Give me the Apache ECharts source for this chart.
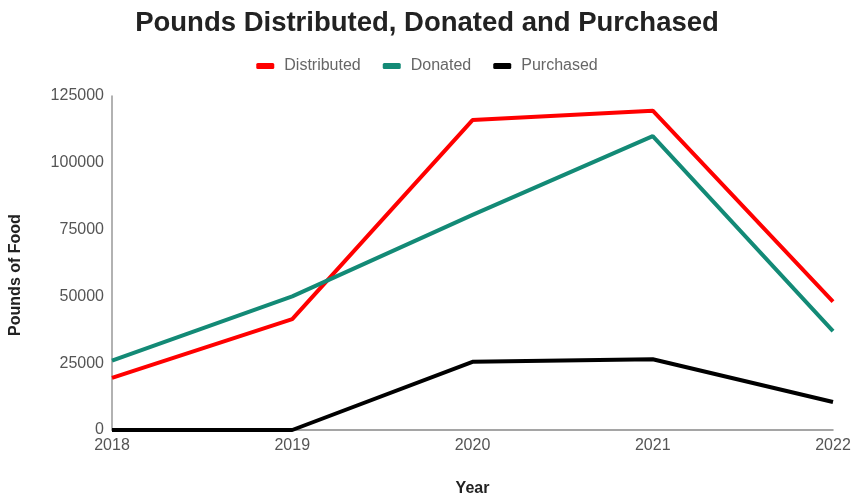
<!DOCTYPE html>
<html><head><meta charset="utf-8">
<script src="https://cdn.jsdelivr.net/npm/echarts@6/dist/echarts.min.js"></script>
<style>html,body{margin:0;padding:0;background:#fff}#c{width:854px;height:502px}</style>
</head><body><div id="c"></div>
<script>
const years = ['2018','2019','2020','2021','2022'];
const distributed = [19500, 41500, 116000, 119500, 48000];
const donated = [26000, 50000, 80500, 110000, 37000];
const purchased = [0, 0, 25500, 26500, 10500];
const yTicks = [0, 25000, 50000, 75000, 100000, 125000];

const chart = echarts.init(document.getElementById('c'));
const font = 'Liberation Sans, Arial, sans-serif';
chart.setOption({
  animation: false,
  title: { text: 'Pounds Distributed, Donated and Purchased', left: 'center', top: 4,
    textStyle: { fontFamily: font, fontSize: 27.5, fontWeight: 'bold', color: '#222' } },
  legend: { top: 53, left: 'center', itemWidth: 18, itemHeight: 6, itemGap: 22, icon: 'roundRect',
    textStyle: { fontFamily: font, fontSize: 16, color: '#666', padding: [0, 0, 0, 5] },
    data: ['Distributed','Donated','Purchased'] },
  grid: { left: 111, right: 21, top: 96, bottom: 69, containLabel: false },
  xAxis: { type: 'category', data: years, boundaryGap: false, name: 'Year', nameLocation: 'middle', nameGap: 51,
    nameTextStyle: { fontFamily: font, fontSize: 16, fontWeight: 'bold', color: '#222' },
    axisLine: { lineStyle: { color: '#888', width: 1.5 } }, axisTick: { show: false },
    axisLabel: { fontFamily: font, fontSize: 16, color: '#555', margin: 8 } },
  yAxis: { type: 'value', min: yTicks[0], max: yTicks[yTicks.length-1], interval: 25000,
    name: 'Pounds of Food', nameLocation: 'middle', nameGap: 88, nameRotate: 90,
    nameTextStyle: { fontFamily: font, fontSize: 16, fontWeight: 'bold', color: '#222', padding: [0, 24, 0, 0] },
    axisLine: { show: true, lineStyle: { color: '#999', width: 1.5 } }, axisTick: { show: false },
    splitLine: { show: false },
    axisLabel: { fontFamily: font, fontSize: 16, color: '#555', margin: 8, formatter: v => String(v) } },
  series: [
    { name: 'Distributed', type: 'line', data: distributed, showSymbol: false, symbol: 'none',
      lineStyle: { color: '#ff0000', width: 4 }, itemStyle: { color: '#ff0000' } },
    { name: 'Donated', type: 'line', data: donated, showSymbol: false, symbol: 'none',
      lineStyle: { color: '#138a76', width: 4 }, itemStyle: { color: '#138a76' } },
    { name: 'Purchased', type: 'line', data: purchased, showSymbol: false, symbol: 'none',
      lineStyle: { color: '#000', width: 4 }, itemStyle: { color: '#000' } }
  ]
});
</script></body></html>
